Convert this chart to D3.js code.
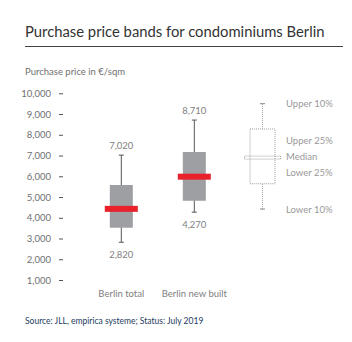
<!DOCTYPE html>
<html>
<head>
<meta charset="utf-8">
<script src="https://cdn.jsdelivr.net/npm/d3@7"></script>
<style>
  body { margin: 0; background: #fff; }
  svg { display: block; font-family: Lato, "Noto Sans", sans-serif; }
</style>
</head>
<body>
<svg width="352" height="342"></svg>
<script>
// data
var categories = ["Berlin total", "Berlin new built"];
var lower10 = [2820, 4270];
var lower25 = [3520, 4820];
var medians = [4430, 5980];
var upper25 = [5580, 7170];
var upper10 = [7020, 8710];
var yTicks = [1000, 2000, 3000, 4000, 5000, 6000, 7000, 8000, 9000, 10000];

// legend box, drawn on the same scale
var legendBox = [4420, 5640, 6900, 8280, 9500]; // lower10, lower25, median, upper25, upper10
var legendLabels = ["Lower 10%", "Lower 25%", "Median", "Upper 25%", "Upper 10%"];
var legendLabelAt = [4420, 6170, 6950, 7720, 9500];

var svg = d3.select("svg");
var fmt = d3.format(",");

var y = d3.scaleLinear().domain([1000, 10000]).range([280, 93.3]);
var x = d3.scalePoint().domain(categories).range([121.3, 194.3]);
var legendX = 262.5;

var boxW = 23, medW = 33, medH = 6, capW = 5;

// title
svg.append("text")
  .attr("x", 25).attr("y", 37)
  .attr("font-size", 14.8)
  .attr("fill", "#333")
  .text("Purchase price bands for condominiums Berlin");

svg.append("line")
  .attr("x1", 25).attr("x2", 343)
  .attr("y1", 46.5).attr("y2", 46.5)
  .attr("stroke", "#444").attr("stroke-width", 1.2);

svg.append("text")
  .attr("x", 25).attr("y", 74.5)
  .attr("font-size", 9.5)
  .attr("fill", "#707070")
  .text("Purchase price in €/sqm");

// y axis, labels + short dashes only
var yAxis = d3.axisLeft(y).tickValues(yTicks).tickFormat(fmt).tickSize(4).tickPadding(8);
var ga = svg.append("g").attr("transform", "translate(63,0)").call(yAxis);
ga.select(".domain").remove();
ga.selectAll(".tick line").attr("stroke", "#555");
ga.selectAll(".tick text")
  .attr("font-family", "Lato, 'Noto Sans', sans-serif")
  .attr("font-size", 9.5)
  .attr("fill", "#707070");

var boxes = svg.append("g").selectAll("g")
  .data(categories)
  .enter().append("g");

boxes.append("line")
  .attr("x1", function(d) { return x(d); })
  .attr("x2", function(d) { return x(d); })
  .attr("y1", function(d, i) { return y(lower10[i]); })
  .attr("y2", function(d, i) { return y(upper10[i]); })
  .attr("stroke", "#555");

[lower10, upper10].forEach(function(arr) {
  boxes.append("line")
    .attr("x1", function(d) { return x(d) - capW / 2; })
    .attr("x2", function(d) { return x(d) + capW / 2; })
    .attr("y1", function(d, i) { return y(arr[i]); })
    .attr("y2", function(d, i) { return y(arr[i]); })
    .attr("stroke", "#555");
});

boxes.append("rect")
  .attr("x", function(d) { return x(d) - boxW / 2; })
  .attr("width", boxW)
  .attr("y", function(d, i) { return y(upper25[i]); })
  .attr("height", function(d, i) { return y(lower25[i]) - y(upper25[i]); })
  .attr("fill", "#9d9fa3");

boxes.append("rect")
  .attr("x", function(d) { return x(d) - medW / 2; })
  .attr("width", medW)
  .attr("y", function(d, i) { return y(medians[i]) - medH / 2; })
  .attr("height", medH)
  .attr("fill", "#e8212b");

boxes.append("text")
  .attr("x", function(d) { return x(d); })
  .attr("y", function(d, i) { return y(upper10[i]) - 6.5; })
  .attr("text-anchor", "middle")
  .attr("font-size", 9.5).attr("fill", "#808080")
  .text(function(d, i) { return fmt(upper10[i]); });

boxes.append("text")
  .attr("x", function(d) { return x(d); })
  .attr("y", function(d, i) { return y(lower10[i]) + 15.5; })
  .attr("text-anchor", "middle")
  .attr("font-size", 9.5).attr("fill", "#808080")
  .text(function(d, i) { return fmt(lower10[i]); });

boxes.append("text")
  .attr("x", function(d) { return x(d); })
  .attr("y", 297)
  .attr("text-anchor", "middle")
  .attr("font-size", 9.5).attr("fill", "#808080")
  .text(function(d) { return d; });

// legend box, dotted
var lg = svg.append("g")
  .attr("fill", "none")
  .attr("stroke", "#a0a0a0")
  .attr("stroke-dasharray", "1,1");

lg.append("line")
  .attr("x1", legendX).attr("x2", legendX)
  .attr("y1", y(legendBox[0])).attr("y2", y(legendBox[1]));
lg.append("line")
  .attr("x1", legendX).attr("x2", legendX)
  .attr("y1", y(legendBox[3])).attr("y2", y(legendBox[4]));
lg.append("rect")
  .attr("x", legendX - 12.5).attr("width", 25)
  .attr("y", y(legendBox[3]))
  .attr("height", y(legendBox[1]) - y(legendBox[3]));
lg.append("rect")
  .attr("x", legendX - 18).attr("width", 36)
  .attr("y", y(legendBox[2]) - 1.5)
  .attr("height", 3);
[legendBox[0], legendBox[4]].forEach(function(v) {
  svg.append("line")
    .attr("x1", legendX - capW / 2).attr("x2", legendX + capW / 2)
    .attr("y1", y(v)).attr("y2", y(v))
    .attr("stroke", "#888");
});

svg.append("g").selectAll("text")
  .data(legendLabels)
  .enter().append("text")
  .attr("x", 286)
  .attr("y", function(d, i) { return y(legendLabelAt[i]) + 3.5; })
  .attr("font-size", 9.5).attr("fill", "#999")
  .text(function(d) { return d; });

svg.append("text")
  .attr("x", 25).attr("y", 324)
  .attr("font-size", 8.5)
  .attr("fill", "#243a5e")
  .text("Source: JLL, empirica systeme; Status: July 2019");
</script>
</body>
</html>
